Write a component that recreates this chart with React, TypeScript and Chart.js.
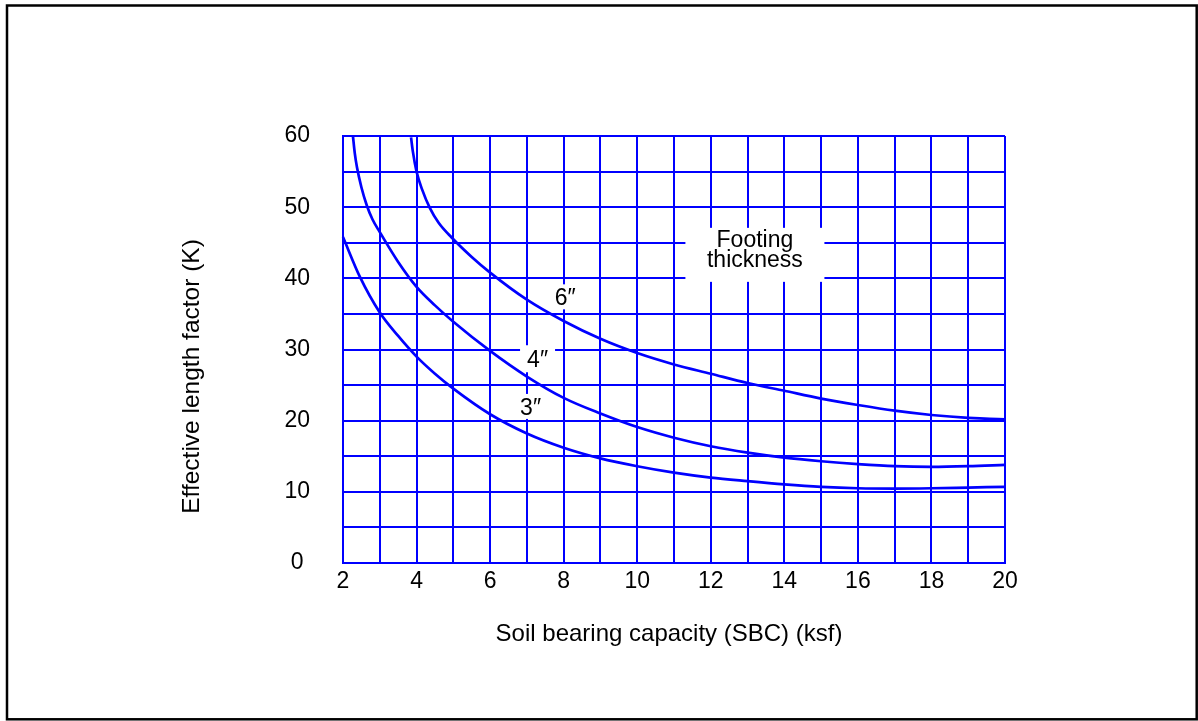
import React, { useEffect, useRef } from 'react';
import { Chart, registerables } from 'chart.js';

Chart.register(...registerables);

// Axis ranges and labelled ticks
const xRange = [2, 20];
const yRange = [0, 60];
const xLabelled = [2, 4, 6, 8, 10, 12, 14, 16, 18, 20];
const yLabelled = [0, 10, 20, 30, 40, 50, 60];

const xTitle = 'Soil bearing capacity (SBC) (ksf)';
const yTitle = 'Effective length factor (K)';

// Footing thickness 3″
const sbc3 = [2, 2.46, 3, 3.5, 4, 4.5, 5, 6, 7, 8, 9, 10, 11, 12, 13, 14, 15, 16, 17, 18, 19, 20];
const k3 = [45.8, 40.2, 35.2, 31.9, 29.0, 26.6, 24.5, 20.9, 18.2, 16.2, 14.7, 13.6, 12.7, 12.0, 11.5, 11.05, 10.7, 10.5, 10.45, 10.5, 10.6, 10.7];

// Footing thickness 4″
const sbc4 = [2.27, 2.32, 2.38, 2.5, 2.65, 2.8, 3, 3.5, 4, 4.5, 5, 6, 7, 8, 9, 10, 11, 12, 13, 14, 15, 16, 17, 18, 19, 20];
const k4 = [60, 57.6, 55.6, 52.8, 50.2, 48.3, 46.5, 42.3, 38.8, 36.2, 33.9, 29.8, 26.2, 23.2, 21.0, 19.1, 17.6, 16.4, 15.5, 14.8, 14.3, 13.9, 13.6, 13.5, 13.6, 13.8];

// Footing thickness 6″
const sbc6 = [3.85, 3.9, 4.0, 4.15, 4.36, 4.6, 4.96, 5.5, 6, 7, 8, 9, 10, 11, 12, 13, 14, 15, 16, 17, 18, 19, 20, 20.1];
const k6 = [59.8, 57.8, 55.0, 52.5, 49.9, 47.8, 45.7, 43.0, 40.8, 37.0, 34.0, 31.5, 29.5, 27.9, 26.6, 25.3, 24.2, 23.1, 22.2, 21.4, 20.8, 20.4, 20.2, 20.2];

// Labels on the plot (data coordinates of their centres)
const labelTexts = ['6″', '4″', '3″'];
const labelX = [8.04, 7.29, 7.1];
const labelY = [37.4, 28.7, 22.0];
const noteLines = ['Footing', 'thickness'];
const noteX = 13.2;
const noteY = 43.3;

const BLUE = '#0000ff';
const FONT = "'Liberation Sans', Arial, Helvetica, sans-serif";

const toPts = (xs: number[], ys: number[]) => xs.map((x, i) => ({ x, y: ys[i] }));

const decorPlugin = {
  id: 'decor',
  beforeDatasetsDraw(chart: any) {
    const ctx = chart.ctx;
    const xs = chart.scales.x;
    const ys = chart.scales.y;
    ctx.save();
    const boxW = [30, 35, 32];
    const boxH = [25, 27, 25];
    labelTexts.forEach((t, i) => {
      const cx = xs.getPixelForValue(labelX[i]);
      const cy = ys.getPixelForValue(labelY[i]);
      ctx.fillStyle = '#ffffff';
      ctx.fillRect(cx - boxW[i] / 2, cy - boxH[i] / 2, boxW[i], boxH[i]);
      ctx.fillStyle = '#000000';
      ctx.font = `23px ${FONT}`;
      ctx.textAlign = 'center';
      ctx.textBaseline = 'alphabetic';
      ctx.fillText(t, cx, cy + 8.5);
    });
    const nx = xs.getPixelForValue(noteX);
    const ny = ys.getPixelForValue(noteY);
    ctx.fillStyle = '#ffffff';
    ctx.fillRect(nx - 69.5, ny - 27, 139, 54);
    ctx.fillStyle = '#000000';
    ctx.font = `23px ${FONT}`;
    ctx.textAlign = 'center';
    ctx.textBaseline = 'alphabetic';
    ctx.fillText(noteLines[0], nx, ny - 8);
    ctx.fillText(noteLines[1], nx, ny + 12);
    ctx.restore();
  },
  afterDraw(chart: any) {
    const ctx = chart.ctx;
    const area = chart.chartArea;
    ctx.save();
    ctx.strokeStyle = '#000000';
    ctx.lineWidth = 2.5;
    ctx.strokeRect(7, 5.5, 1189.7, 713.8);
    ctx.fillStyle = '#000000';
    ctx.textAlign = 'center';
    ctx.textBaseline = 'alphabetic';
    ctx.font = `24px ${FONT}`;
    ctx.fillText(xTitle, (area.left + area.right) / 2 - 5, area.bottom + 78);
    ctx.font = `24.5px ${FONT}`;
    ctx.translate(199, (area.top + area.bottom) / 2 + 27);
    ctx.rotate(-Math.PI / 2);
    ctx.fillText(yTitle, 0, 0);
    ctx.restore();
  },
};

export default function App() {
  const ref = useRef<HTMLCanvasElement | null>(null);
  useEffect(() => {
    if (!ref.current) return;
    const mk = (xs: number[], ys: number[], label: string) => ({
      label,
      data: toPts(xs, ys),
      showLine: true,
      borderColor: BLUE,
      borderWidth: 2.7,
      pointRadius: 0,
      fill: false,
      cubicInterpolationMode: 'monotone' as const,
      clip: false as any,
    });
    const chart = new Chart(ref.current, {
      type: 'scatter',
      data: {
        datasets: [mk(sbc3, k3, '3″'), mk(sbc4, k4, '4″'), mk(sbc6, k6, '6″')],
      },
      plugins: [decorPlugin],
      options: {
        animation: false,
        responsive: false,
        devicePixelRatio: 1,
        layout: { padding: { left: 0, top: 136, right: 193, bottom: 0 } },
        plugins: { legend: { display: false }, tooltip: { enabled: false } },
        scales: {
          x: {
            type: 'linear',
            min: xRange[0],
            max: xRange[1],
            afterFit: (s: any) => { s.height = 158; },
            grid: { color: BLUE, lineWidth: 2, drawTicks: false },
            border: { color: BLUE, width: 2 },
            ticks: {
              stepSize: 1,
              autoSkip: false,
              maxRotation: 0,
              padding: 5,
              color: '#000000',
              font: { family: FONT, size: 23 },
              callback: (v: any) => (xLabelled.includes(Number(v)) ? String(v) : ''),
            },
          },
          y: {
            type: 'linear',
            min: yRange[0],
            max: yRange[1],
            afterFit: (s: any) => { s.width = 343; },
            grid: { color: BLUE, lineWidth: 2, drawTicks: false },
            border: { color: BLUE, width: 2 },
            ticks: {
              stepSize: 5,
              autoSkip: false,
              padding: 33,
              crossAlign: 'center',
              color: '#000000',
              font: { family: FONT, size: 23 },
              callback: (v: any) => (yLabelled.includes(Number(v)) ? String(v) : ''),
            },
          },
        },
      },
    });
    return () => chart.destroy();
  }, []);
  return (
    <div style={{ position: 'fixed', left: 0, top: 0, width: 1198, height: 721, background: '#fff' }}>
      <canvas ref={ref} width={1198} height={721} style={{ width: 1198, height: 721, display: 'block' }} />
    </div>
  );
}
